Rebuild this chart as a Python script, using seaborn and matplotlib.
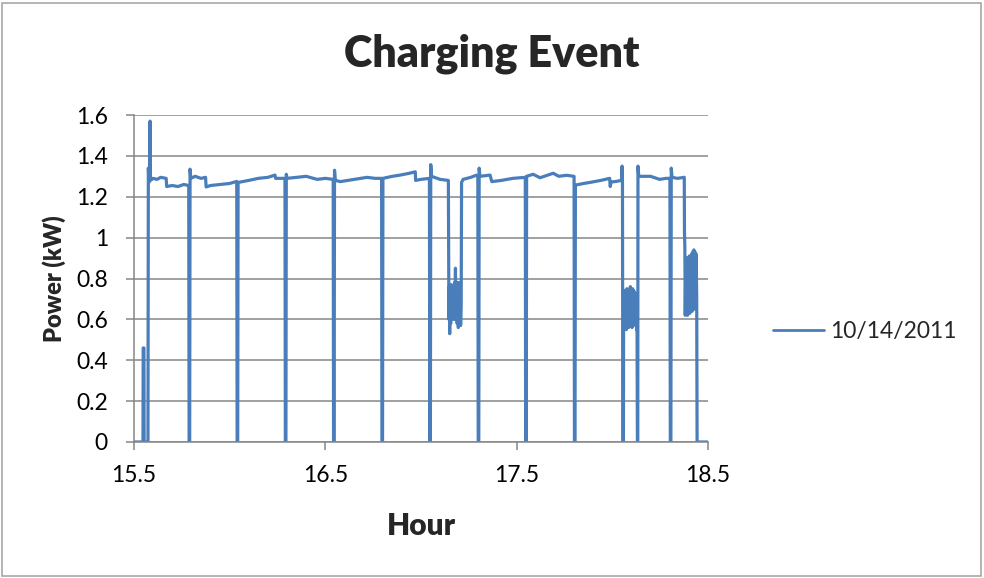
import pandas as pd
import matplotlib
matplotlib.use("Agg")
import matplotlib.pyplot as plt
import seaborn as sns

# --- values ---
SERIES_NAME = "10/14/2011"

hour = [
    15.500, 15.547, 15.548, 15.552, 15.553, 15.573, 15.575, 15.578, 15.582, 15.584,
    15.586, 15.600, 15.620, 15.640, 15.668, 15.671, 15.700, 15.730, 15.760, 15.786,
    15.788, 15.791, 15.793, 15.797, 15.820, 15.850, 15.874, 15.877, 15.900, 15.950,
    16.000, 16.037, 16.039, 16.042, 16.044, 16.100, 16.150, 16.200, 16.237, 16.240,
    16.289, 16.291, 16.294, 16.296, 16.300, 16.350, 16.400, 16.457, 16.500, 16.541,
    16.543, 16.546, 16.548, 16.552, 16.578, 16.650, 16.718, 16.760, 16.794, 16.796,
    16.799, 16.801, 16.850, 16.891, 16.940, 16.970, 16.972, 17.000, 17.044, 17.046,
    17.049, 17.051, 17.055, 17.100, 17.143,
    # first dip
    17.146, 17.148, 17.150, 17.152, 17.155, 17.158, 17.161, 17.164, 17.167, 17.170,
    17.173, 17.176, 17.178, 17.180, 17.183, 17.186, 17.189, 17.192, 17.195, 17.198,
    17.201, 17.204, 17.207, 17.210,
    17.212, 17.220, 17.260, 17.291, 17.297, 17.299, 17.302, 17.304, 17.308, 17.361,
    17.370, 17.420, 17.480, 17.545, 17.547, 17.550, 17.552, 17.586, 17.622, 17.660,
    17.691, 17.720, 17.760, 17.800, 17.802, 17.805, 17.807, 17.850, 17.883, 17.940,
    17.986, 17.989, 17.993, 18.020, 18.048, 18.051, 18.053, 18.055, 18.058,
    # second dip
    18.059, 18.061, 18.064, 18.067, 18.070, 18.073, 18.076, 18.079, 18.082, 18.085,
    18.088, 18.091, 18.094, 18.097, 18.100, 18.103, 18.106, 18.109, 18.112, 18.115,
    18.118, 18.121, 18.124, 18.127, 18.129,
    18.131, 18.133, 18.134, 18.138, 18.200, 18.247, 18.280, 18.301, 18.303, 18.306,
    18.308, 18.312, 18.340, 18.376,
    # third dip
    18.377, 18.379, 18.381, 18.384, 18.387, 18.390, 18.393, 18.396, 18.399, 18.402,
    18.405, 18.408, 18.411, 18.414, 18.417, 18.420, 18.423, 18.426, 18.429, 18.432,
    18.435, 18.438, 18.441,
    18.443, 18.500,
]

power_kw = [
    0.00, 0.00, 0.46, 0.46, 0.00, 0.00, 1.34, 1.27, 1.29, 1.57,
    1.28, 1.29, 1.285, 1.295, 1.29, 1.25, 1.255, 1.25, 1.26, 1.255,
    0.00, 0.00, 1.335, 1.29, 1.30, 1.29, 1.295, 1.248, 1.255, 1.26,
    1.265, 1.275, 0.00, 0.00, 1.27, 1.28, 1.29, 1.295, 1.306, 1.29,
    1.29, 0.00, 0.00, 1.31, 1.29, 1.295, 1.30, 1.285, 1.29, 1.285,
    0.00, 0.00, 1.33, 1.28, 1.274, 1.285, 1.295, 1.29, 1.29, 0.00,
    0.00, 1.29, 1.30, 1.306, 1.315, 1.322, 1.28, 1.285, 1.29, 0.00,
    0.00, 1.357, 1.30, 1.285, 1.28,
    # first dip
    0.60, 0.76, 0.53, 0.75, 0.58, 0.77, 0.60, 0.76, 0.62, 0.74,
    0.60, 0.78, 0.64, 0.85, 0.60, 0.78, 0.58, 0.76, 0.56, 0.78,
    0.60, 0.77, 0.57, 0.66,
    1.27, 1.285, 1.295, 1.306, 1.30, 0.00, 0.00, 1.34, 1.30, 1.306,
    1.274, 1.28, 1.29, 1.295, 0.00, 0.00, 1.30, 1.31, 1.293, 1.305,
    1.315, 1.30, 1.305, 1.30, 0.00, 0.00, 1.257, 1.265, 1.27, 1.28,
    1.29, 1.25, 1.272, 1.275, 1.28, 1.35, 1.27, 0.00, 0.00,
    # second dip
    0.70, 0.55, 0.74, 0.56, 0.73, 0.55, 0.75, 0.58, 0.72, 0.56,
    0.74, 0.57, 0.76, 0.59, 0.73, 0.56, 0.75, 0.58, 0.74, 0.60,
    0.73, 0.57, 0.72, 0.55, 0.60,
    0.00, 0.00, 1.35, 1.30, 1.30, 1.285, 1.29, 1.29, 0.00, 0.00,
    1.34, 1.295, 1.29, 1.295,
    # third dip
    1.03, 0.95, 0.62, 0.88, 0.64, 0.90, 0.62, 0.88, 0.66, 0.91,
    0.63, 0.90, 0.65, 0.92, 0.64, 0.93, 0.67, 0.94, 0.65, 0.93,
    0.68, 0.92, 0.70,
    0.00, 0.00,
]

x_ticks = [15.5, 16.5, 17.5, 18.5]
x_tick_labels = ["15.5", "16.5", "17.5", "18.5"]
y_ticks = [0, 0.2, 0.4, 0.6, 0.8, 1.0, 1.2, 1.4, 1.6]
y_tick_labels = ["0", "0.2", "0.4", "0.6", "0.8", "1", "1.2", "1.4", "1.6"]

LINE_COLOR = "#4A7EBB"
GRID_COLOR = "#868686"

sns.set_style("white")
plt.rcParams["font.family"] = ["Lato", "DejaVu Sans"]

df = pd.DataFrame({"Hour": hour, "Power": power_kw, "Date": SERIES_NAME})

W, H = 984, 578
fig = plt.figure(figsize=(W / 100, H / 100), dpi=100)
ax = fig.add_axes([134 / W, 1 - 442 / H, (708 - 134) / W, (442 - 115) / H])

sns.lineplot(data=df, x="Hour", y="Power", hue="Date", palette=[LINE_COLOR],
             sort=False, estimator=None, linewidth=2.3, ax=ax, legend=False)

ax.set_xlim(15.5, 18.5)
ax.set_ylim(0, 1.6)
ax.set_xticks(x_ticks)
ax.set_xticklabels(x_tick_labels)
ax.set_yticks(y_ticks)
ax.set_yticklabels(y_tick_labels)
ax.grid(axis="y", color=GRID_COLOR, linewidth=1.1)
ax.grid(axis="x", visible=False)
ax.set_axisbelow(True)

for side in ["top", "right"]:
    ax.spines[side].set_visible(False)
for side in ["left", "bottom"]:
    ax.spines[side].set_color(GRID_COLOR)
    ax.spines[side].set_linewidth(1.1)

ax.tick_params(axis="both", direction="out", length=5.8, width=1.1, color=GRID_COLOR,
               labelsize=16.5, labelcolor="black")
ax.tick_params(axis="y", pad=13, left=True)
ax.tick_params(axis="x", pad=11, bottom=True)

ax.set_xlabel("Hour", fontsize=21.5, fontweight="heavy", va="baseline")
ax.xaxis.set_label_coords(0.5, -(535 - 442) / (442 - 115))
ax.set_ylabel("Power (kW)", fontsize=17, fontweight="heavy", va="center")
ax.yaxis.set_label_coords((54 - 134) / (708 - 134), 0.5)

fig.text(0.5, 1 - 66.7 / H, "Charging Event", ha="center", va="baseline",
         fontsize=31, fontweight="heavy")

handle = plt.Line2D([], [], color=LINE_COLOR, linewidth=2.0)
fig.legend([handle], [SERIES_NAME], loc="center left",
           bbox_to_anchor=(772.7 / W, 1 - 331.7 / H), frameon=False,
           fontsize=16.5, handlelength=2.25, handletextpad=0.25, borderpad=0,
           borderaxespad=0)

# thin chart-area border like the Excel chart
fig.add_artist(plt.Rectangle((2 / W, 2 / H), 1 - 5 / W, 1 - 4.5 / H, transform=fig.transFigure,
                             fill=False, edgecolor="#A0A0A0", linewidth=1.1))

fig.savefig("out.png", dpi=100)
